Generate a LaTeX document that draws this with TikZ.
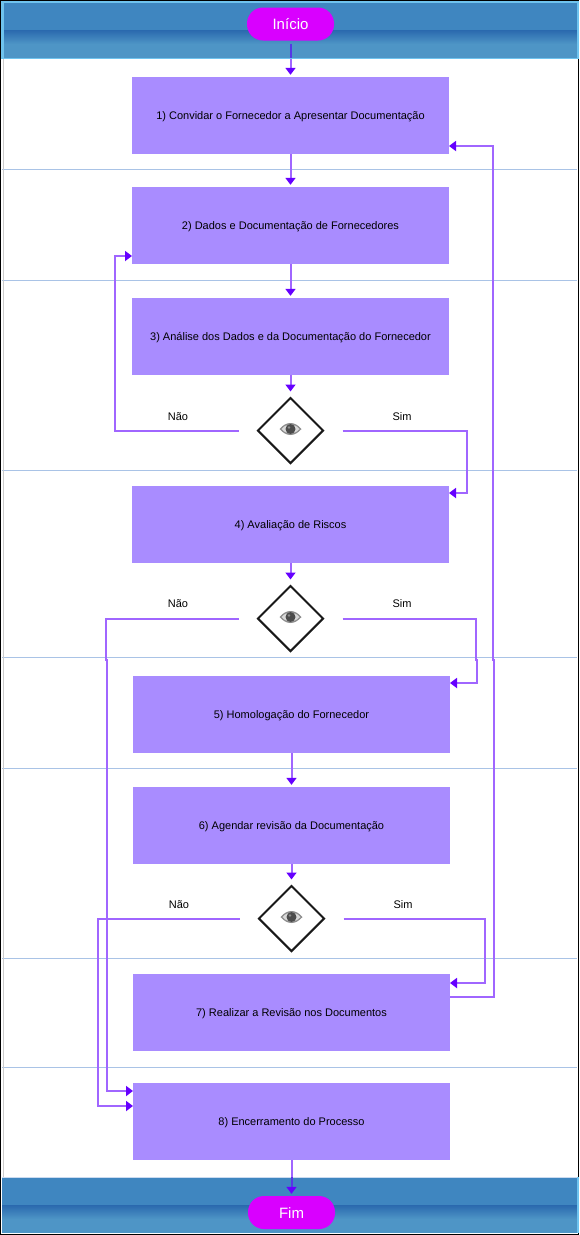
\documentclass[tikz,border=0pt]{standalone}
\usepackage{fontspec}
\setmainfont{Liberation Sans}
\usetikzlibrary{arrows.meta,positioning,shapes.geometric}
\definecolor{bandblue}{HTML}{3F86C0}
\definecolor{banddark}{HTML}{2A69AE}
\definecolor{bandlight}{HTML}{4E95C6}
\definecolor{laneblue}{HTML}{A9C3E6}
\definecolor{edgeblue}{HTML}{6FC3EE}
\definecolor{boxpurple}{HTML}{A98CFF}
\definecolor{pillpink}{HTML}{D900FF}
\definecolor{linepurple}{HTML}{A066FF}
\definecolor{tippurple}{HTML}{6600FF}
\definecolor{inband}{HTML}{5636E6}
\begin{document}
\begin{tikzpicture}[x=1pt,y=-1pt,font=\fontsize{11}{13}\selectfont,
box/.style={fill=boxpurple,minimum width=317pt,minimum height=77pt,inner sep=0pt,text height=8pt,text depth=0pt},
pill/.style={fill=pillpink,rounded corners=16pt,minimum width=87pt,minimum height=33pt,inner sep=0pt,text=white,text height=11pt,text depth=0pt,font=\fontsize{15}{17}\selectfont},
gate/.style={diamond,draw=black!90,line width=2pt,minimum width=66pt,minimum height=66pt,inner sep=0pt},
tag/.style={text height=8pt,text depth=0pt},
arr/.style={-{Triangle[color=tippurple,width=10pt,length=7pt]},line width=2pt,draw=linepurple,line join=miter},
lane/.style={draw=laneblue,line width=1pt},
inbandline/.style={line width=2pt,draw=inband},
eyeicon/.pic={
\fill[black!45] (-11,0) .. controls (-4,-8) and (4,-8) .. (11,0) .. controls (4,8) and (-4,8) .. (-11,0) -- cycle;
\fill[black!15] (-9,0) .. controls (-4,-6) and (4,-6) .. (9,0) .. controls (4,6) and (-4,6) .. (-9,0) -- cycle;
\fill[black!70] (0,0) circle (5);
\fill[black!45] (-1.5,-1.5) circle (1.4);}]
\useasboundingbox (0,0) rectangle (579,1235);
\fill[white] (0,0) rectangle (579,1235);

\fill[bandblue] (2,2) rectangle (578,31);
\shade[top color=banddark,bottom color=bandlight] (2,30) rectangle (578,44);
\fill[bandlight] (2,44) rectangle (578,58);
\fill[bandblue] (2,1177) rectangle (578,1206);
\shade[top color=banddark,bottom color=bandlight] (2,1205) rectangle (578,1219);
\fill[bandlight] (2,1219) rectangle (578,1233);
\foreach \y in {169,280,470,657,768,958,1067} \draw[lane] (2,\y) -- (577,\y);
\draw[black!20,line width=1pt] (3.5,58) -- (3.5,1177);
\draw[laneblue!60!white,line width=1pt] (2,1177) -- (577,1177);

\node[pill] (inicio)at(290.5,24){Início};
\path (inicio.center);
\node[box] (b1)at(290.5,115.5){1) Convidar o Fornecedor a Apresentar Documentação};
\node[box] (b2)at(290.5,225.5){2) Dados e Documentação de Fornecedores};
\node[box] (b3)at(290.5,336.5){3) Análise dos Dados e da Documentação do Fornecedor};
\node[gate] (d1)at(290.5,430.5){};
\node[box] (b4)at(290.5,524.5){4) Avaliação de Riscos};
\node[gate] (d2)at(290.5,618.5){};
\node[box] (b5)at(291.5,714.5){5) Homologação do Fornecedor};
\node[box] (b6)at(291.5,825.5){6) Agendar revisão da Documentação};
\node[gate] (d3)at(291.5,918.5){};
\node[box] (b7)at(291.5,1012.5){7) Realizar a Revisão nos Documentos};
\node[box] (b8)at(291.5,1121.5){8) Encerramento do Processo};
\node[pill] (fim)at(291.5,1212.5){Fim};
\pic at (290.5,429) {eyeicon};
\pic at (290.5,617) {eyeicon};
\pic at (291.5,917) {eyeicon};

\node[tag] (nao1)at(178,416){Não};
\node[tag] (sim1)at(402,416){Sim};
\node[tag] (nao2)at(178,603){Não};
\node[tag] (sim2)at(402,603){Sim};
\node[tag] (nao3)at(179,904){Não};
\node[tag] (sim3)at(403,904){Sim};

\coordinate (b1in)at(449,146);
\coordinate (b2in)at(132,256);
\coordinate (b4in)at(449,493);
\coordinate (b5in)at(450,683);
\coordinate (b7in)at(450,983);
\coordinate (b7out)at(450,997);
\coordinate (b8ina)at(133,1091);
\coordinate (b8inb)at(133,1106);

\draw[arr,shorten <=3pt,shorten >=2pt] (inicio) -- (b1);
\draw[inbandline,shorten <=3pt] (inicio.south) -- (290.5,58);
\draw[arr,shorten >=2pt] (b1) -- (b2);
\draw[arr,shorten >=2pt] (b2) -- (b3);
\draw[arr,shorten >=5pt] (b3) -- (d1);
\draw[arr,shorten >=5pt] (b4) -- (d2);
\draw[arr,shorten >=2pt] (b5) -- (b6);
\draw[arr,shorten >=5pt] (b6) -- (d3);
\draw[arr,shorten >=2pt] (b8) -- (fim);
\draw[inbandline,shorten >=9pt] (291.5,1177) -- (fim.north);

\draw[arr,shorten <=18pt] (d1.west) -- (115,430.5) -- (115,256) -- (b2in);
\draw[arr,shorten <=18pt] (d1.east) -- (467,430.5) -- (467,493) -- (b4in);
\draw[arr,shorten <=18pt] (d2.west) -- (106,618.5) -- (106,660) -- (107,660) -- (107,1091) -- (b8ina);
\draw[arr,shorten <=18pt] (d2.east) -- (476,618.5) -- (476,660) -- (477,660) -- (477,683) -- (b5in);
\draw[arr,shorten <=18pt] (d3.west) -- (98,918.5) -- (98,1106) -- (b8inb);
\draw[arr,shorten <=18pt] (d3.east) -- (485,918.5) -- (485,983) -- (b7in);
\draw[arr] (b7out) -- (494,997) -- (494,660) -- (493,660) -- (493,146) -- (b1in);

\draw[black,line width=1pt] (0.5,0.5) rectangle (578,1234.5);
\fill[edgeblue] (1,1) rectangle (3.5,58);
\fill[edgeblue] (1,1) rectangle (578,2.5);
\fill[edgeblue] (1,57.5) rectangle (578,59);
\fill[edgeblue] (577,1) rectangle (579,59);
\fill[edgeblue] (577,1177) rectangle (579,1233);
\end{tikzpicture}
\end{document}
